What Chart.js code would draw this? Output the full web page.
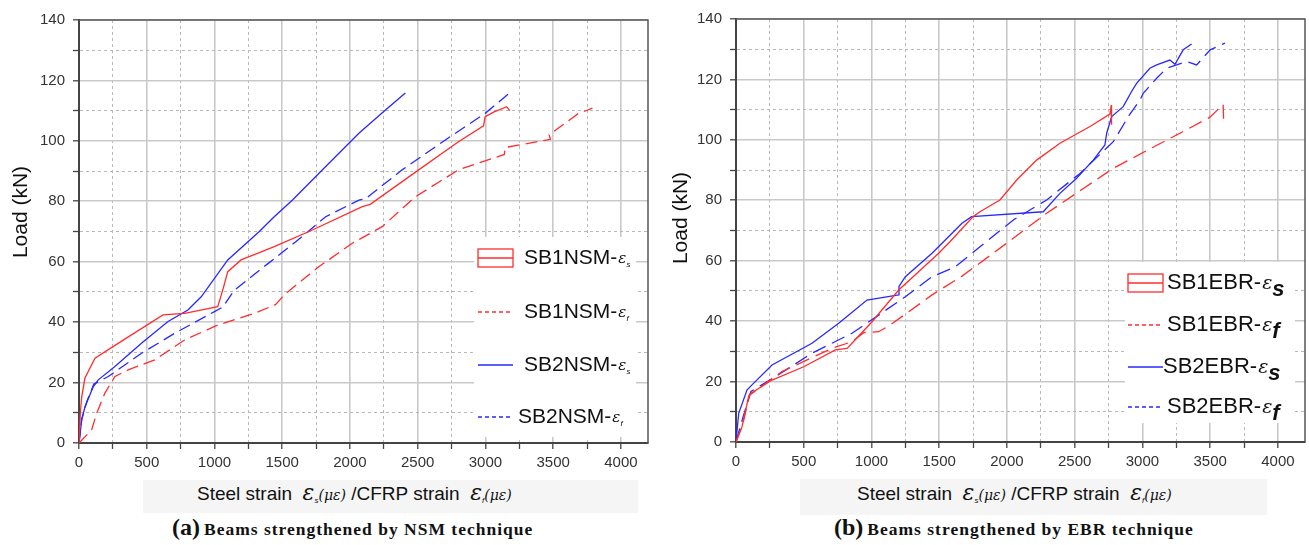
<!DOCTYPE html>
<html>
<head>
<meta charset="utf-8">
<script src="https://cdn.jsdelivr.net/npm/chart.js@4.4.1/dist/chart.umd.min.js"></script>
<style>
body { margin: 0; background: #fff; width: 1309px; height: 545px; position: relative; overflow: hidden; font-family: "Liberation Sans", Arial, sans-serif; color: #111; }
.abs { position: absolute; }
.ytitle { font-size: 21px; transform: rotate(-90deg); transform-origin: center center; white-space: nowrap; width: 120px; text-align: center; line-height: 24px; }
.xbox { background: #f5f5f5; }
.xtitle { font-size: 19px; white-space: nowrap; line-height: 24px; }
.xtitle .eps { font-family: "DejaVu Serif", serif; font-style: italic; font-size: 22px; }
.xtitle sub { font-size: 8px; font-style: italic; vertical-align: -3px; }
.xtitle .me { font-family: "DejaVu Serif", serif; font-style: italic; font-size: 14px; }
.cap { font-family: "Liberation Serif", "Times New Roman", serif; font-weight: bold; white-space: nowrap; line-height: 28px; }
.cap .lab { font-size: 24px; }
.cap .txt { font-size: 17.5px; letter-spacing: 1px; }
</style>
</head>
<body>

<canvas id="chartA" class="abs" style="left:0;top:0" width="660" height="475"></canvas>
<canvas id="chartB" class="abs" style="left:660px;top:0" width="649" height="475"></canvas>

<div class="abs ytitle" style="left:-40px;top:200px">Load (kN)</div>
<div class="abs ytitle" style="left:620px;top:206px">Load (kN)</div>

<div class="abs xbox" style="left:143px;top:480px;width:495px;height:33px"></div>
<div class="abs xbox" style="left:800px;top:479px;width:467px;height:36px"></div>

<div class="abs xtitle" style="left:197px;top:481px">Steel strain&nbsp; <span class="eps">ε</span><sub>s</sub><span class="me">(με)</span> /CFRP strain&nbsp; <span class="eps">ε</span><sub>f</sub><span class="me">(με)</span></div>
<div class="abs xtitle" style="left:857px;top:481px">Steel strain&nbsp; <span class="eps">ε</span><sub>s</sub><span class="me">(με)</span> /CFRP strain&nbsp; <span class="eps">ε</span><sub>f</sub><span class="me">(με)</span></div>

<div class="abs cap" style="left:172px;top:513px"><span class="lab">(a)</span> <span class="txt">Beams strengthened by NSM technique</span></div>
<div class="abs cap" style="left:834px;top:513px"><span class="lab">(b)</span> <span class="txt">Beams strengthened by EBR technique</span></div>

<script>
// strain (microstrain) and load (kN)

// (a) NSM beams
let sb1nsmSx = [0, 10, 20, 44, 118, 300, 620, 780, 1024, 1061, 1098, 1196, 1331, 1441, 1723, 2091, 2150, 2507, 2801, 2986, 2998, 3060, 3157, 3180];
let sb1nsmSy = [0, 10, 15.3, 21.5, 28.1, 33.3, 42.4, 42.9, 45.1, 50.6, 56.7, 60.6, 63, 65, 70.5, 78.2, 79, 90.4, 99.7, 105, 108, 109.5, 111.3, 110];

let sb1nsmFx = [0, 93, 130, 191, 265, 363, 559, 779, 1022, 1300, 1450, 1527, 1772, 2017, 2238, 2483, 2801, 2998, 3140, 3145, 3480, 3470, 3684, 3790];
let sb1nsmFy = [0, 4.3, 9.8, 16.5, 22, 24.2, 27.5, 34.1, 39, 43, 45.8, 49.5, 58.4, 66.1, 71.6, 81.5, 90.4, 93.4, 95.5, 97.8, 100.5, 102, 109, 110.8];

let sb2nsmSx = [0, 20, 44, 105, 142, 265, 461, 657, 804, 902, 1098, 1331, 1441, 1576, 1821, 2066, 2262, 2409];
let sb2nsmSy = [0, 7.6, 12, 18.6, 20.9, 25.3, 33, 40.2, 44, 48.4, 60.6, 70, 74.9, 80.4, 91.5, 102.5, 110.2, 115.8];

let sb2nsmFx = [0, 20, 60, 110, 216, 461, 706, 1000, 1061, 1147, 1404, 1441, 1600, 1821, 2066, 2115, 2385, 2704, 2998, 3169];
let sb2nsmFy = [0, 8, 14, 19.5, 22, 29.7, 36.3, 43.5, 45, 50.6, 59.7, 61, 66.6, 74.9, 80.4, 80.8, 90.4, 100.3, 109.1, 115.5];

// (b) EBR beams
let sb1ebrSx = [0, 44, 93, 100, 266, 500, 733, 820, 856, 1004, 1201, 1496, 1579, 1751, 1801, 1948, 2072, 2219, 2391, 2613, 2760, 2770, 2772];
let sb1ebrSy = [0, 5, 15, 15.8, 20.5, 24.9, 30.5, 31, 32.7, 39.8, 50.3, 62.5, 66.3, 74.6, 76.2, 80.1, 86.7, 93.3, 98.9, 104.4, 108.5, 111.5, 105];

let sb1ebrFx = [0, 50, 100, 339, 708, 856, 942, 1053, 1127, 1275, 1447, 1668, 1899, 2293, 2785, 3055, 3277, 3498, 3596, 3600];
let sb1ebrFy = [0, 6, 15.5, 23.3, 31, 33.2, 36.2, 36.5, 38.4, 43.1, 48.7, 54.9, 62.5, 75.7, 90.6, 97, 102.2, 107.5, 111.7, 105];

let sb2ebrSx = [0, 20, 81, 118, 266, 561, 758, 967, 1201, 1203, 1250, 1447, 1668, 1739, 2268, 2391, 2514, 2637, 2723, 2736, 2773, 2858, 2920, 2957, 3055, 3105, 3203, 3240, 3301, 3363];
let sb2ebrSy = [0, 9.5, 17.2, 18.9, 25.5, 32.7, 39.3, 47, 48.7, 51.5, 54.7, 62.5, 72.4, 74.6, 76.2, 82.3, 87.3, 93.3, 98.3, 102.2, 107.7, 111, 116, 118.7, 123.7, 124.8, 126.4, 125, 129.8, 131.7];

let sb2ebrFx = [0, 50, 110, 290, 561, 856, 1053, 1250, 1447, 1619, 1801, 2047, 2293, 2539, 2785, 2900, 2982, 3006, 3105, 3179, 3326, 3400, 3500, 3609];
let sb2ebrFy = [0, 8, 16.7, 21.6, 29.4, 36, 42, 48.1, 54.7, 58, 64.6, 73.5, 80.1, 88.9, 99.4, 108, 113.2, 115.4, 120.4, 123.7, 125.9, 124.8, 129.8, 132];

let labelsA = ['SB1NSM-', 'SB1NSM-', 'SB2NSM-', 'SB2NSM-'];
let labelsB = ['SB1EBR-', 'SB1EBR-', 'SB2EBR-', 'SB2EBR-'];
let subs = ['s', 'f', 's', 'f'];

let xTickLabels = [0, 500, 1000, 1500, 2000, 2500, 3000, 3500, 4000];
let yTickLabels = [0, 20, 40, 60, 80, 100, 120, 140];

const RED = 'rgb(255,45,45)';
const BLUE = 'rgb(40,40,255)';

function toPoints(xs, ys) {
    let pts = [];
    for (let i = 0; i < xs.length; i++) {
        pts.push({x: xs[i], y: ys[i]});
    }
    return pts;
}

function makeSet(label, xs, ys, color, dashed, dash) {
    return {
        label: label,
        data: toPoints(xs, ys),
        showLine: true,
        borderColor: color,
        backgroundColor: color,
        borderWidth: 1.3,
        borderDash: dashed ? dash : [],
        pointRadius: 0,
        tension: 0
    };
}

// major ticks carry labels, minor ones sit halfway between
function stepTicks(last, step) {
    return function(scale) {
        let t = [];
        for (let v = 0; v <= last; v += step) {
            t.push({value: v});
        }
        scale.ticks = t;
    };
}

function isMajor(c, every) {
    return c.tick && Math.round(c.tick.value) % every === 0;
}

// frame, white legend box and the legend itself
function panelPlugin(legend) {
    return {
        id: 'panel',
        beforeDatasetsDraw(chart) {
            let ctx = chart.ctx;
            ctx.save();
            ctx.fillStyle = '#fff';
            ctx.fillRect(legend.box[0], legend.box[1], legend.box[2], legend.box[3]);
            ctx.restore();
        },
        afterDraw(chart) {
            let ctx = chart.ctx;
            let a = chart.chartArea;
            ctx.save();
            ctx.strokeStyle = '#555';
            ctx.lineWidth = 1.5;
            ctx.beginPath();
            ctx.moveTo(a.left, a.top);
            ctx.lineTo(a.right, a.top);
            ctx.lineTo(a.right, a.bottom);
            ctx.stroke();

            chart.data.datasets.forEach(function(ds, i) {
                let y = legend.ys[i];
                let x0 = legend.sx0, x1 = legend.sx1;
                ctx.strokeStyle = ds.borderColor;
                ctx.lineWidth = 1.3;
                if (i === 0) {
                    ctx.setLineDash([]);
                    ctx.strokeRect(x0, y - 9, x1 - x0, 18);
                    ctx.beginPath();
                    ctx.moveTo(x0, y);
                    ctx.lineTo(x1, y);
                    ctx.stroke();
                } else {
                    ctx.setLineDash(ds.borderDash.length ? [4, 3] : []);
                    ctx.beginPath();
                    ctx.moveTo(x0, y);
                    ctx.lineTo(x1, y);
                    ctx.stroke();
                    ctx.setLineDash([]);
                }
                ctx.fillStyle = '#111';
                ctx.textBaseline = 'middle';
                ctx.font = legend.size + 'px "Liberation Sans", Arial, sans-serif';
                let tx = legend.tx[i];
                ctx.fillText(ds.label, tx, y);
                tx += ctx.measureText(ds.label).width + 1;
                ctx.font = 'italic ' + legend.epsSize + 'px "DejaVu Serif", serif';
                ctx.fillText('ε', tx, y + legend.epsDy);
                tx += ctx.measureText('ε').width;
                ctx.font = legend.subFont;
                ctx.fillText(subs[i], tx, y + legend.subDy);
            });
            ctx.restore();
        }
    };
}

function makeChart(id, datasets, lay, legend) {
    let ctx = document.getElementById(id).getContext('2d');
    return new Chart(ctx, {
        type: 'scatter',
        data: { datasets: datasets },
        options: {
            responsive: false,
            animation: false,
            events: [],
            layout: { padding: { top: lay.top, right: lay.right, left: 0, bottom: 0 } },
            plugins: { legend: { display: false }, tooltip: { enabled: false } },
            scales: {
                x: {
                    type: 'linear',
                    min: 0,
                    max: 4200,
                    afterBuildTicks: stepTicks(4000, 250),
                    afterFit: function(s) { s.height = lay.xh; },
                    ticks: {
                        autoSkip: false,
                        maxRotation: 0,
                        color: '#333',
                        padding: 5,
                        font: { size: 15, family: '"Liberation Sans", Arial, sans-serif' },
                        callback: function(v) { return xTickLabels.includes(Math.round(v)) ? String(Math.round(v)) : ''; }
                    },
                    grid: {
                        color: function(c) { return isMajor(c, 500) ? '#c9c9c9' : '#b8b8b8'; },
                        lineWidth: function(c) { return isMajor(c, 500) ? 1.6 : 1; },
                        tickLength: 6,
                        tickColor: '#444',
                        tickWidth: 1.3
                    },
                    border: {
                        color: '#444',
                        width: 2,
                        dash: function(c) { return c.tick && !isMajor(c, 500) ? [3, 3] : []; }
                    }
                },
                y: {
                    type: 'linear',
                    min: 0,
                    max: 140,
                    afterBuildTicks: stepTicks(140, 10),
                    afterFit: function(s) { s.width = lay.yw; },
                    ticks: {
                        autoSkip: false,
                        color: '#333',
                        padding: 8,
                        font: { size: 15, family: '"Liberation Sans", Arial, sans-serif' },
                        callback: function(v) { return yTickLabels.includes(Math.round(v)) ? String(Math.round(v)) : ''; }
                    },
                    grid: {
                        color: function(c) { return isMajor(c, 20) ? '#c9c9c9' : '#b8b8b8'; },
                        lineWidth: function(c) { return isMajor(c, 20) ? 1.6 : 1; },
                        tickLength: 6,
                        tickColor: '#444',
                        tickWidth: 1.3
                    },
                    border: {
                        color: '#444',
                        width: 2,
                        dash: function(c) { return c.tick && !isMajor(c, 20) ? [3, 3] : []; }
                    }
                }
            }
        },
        plugins: [panelPlugin(legend)]
    });
}

let setsA = [
    makeSet(labelsA[0], sb1nsmSx, sb1nsmSy, RED, false),
    makeSet(labelsA[1], sb1nsmFx, sb1nsmFy, RED, true, [12, 6]),
    makeSet(labelsA[2], sb2nsmSx, sb2nsmSy, BLUE, false),
    makeSet(labelsA[3], sb2nsmFx, sb2nsmFy, BLUE, true, [12, 6])
];

let setsB = [
    makeSet(labelsB[0], sb1ebrSx, sb1ebrSy, RED, false),
    makeSet(labelsB[1], sb1ebrFx, sb1ebrFy, RED, true, [14, 7]),
    makeSet(labelsB[2], sb2ebrSx, sb2ebrSy, BLUE, false),
    makeSet(labelsB[3], sb2ebrFx, sb2ebrFy, BLUE, true, [14, 7])
];

makeChart('chartA', setsA, { top: 20, right: 12, yw: 79, xh: 32 }, {
    box: [474, 237, 162, 200],
    ys: [258, 312, 365, 417],
    sx0: 478, sx1: 513,
    tx: [524, 524, 524, 518],
    size: 21,
    epsSize: 15, epsDy: 1,
    subFont: 'italic 8px "Liberation Sans", Arial, sans-serif', subDy: 7
});

makeChart('chartB', setsB, { top: 19, right: 4, yw: 76, xh: 33 }, {
    box: [465, 262, 170, 161],
    ys: [283, 325, 367, 407],
    sx0: 468, sx1: 503,
    tx: [507, 507, 503, 507],
    size: 22,
    epsSize: 19, epsDy: 1,
    subFont: 'italic bold 22px "Liberation Sans", Arial, sans-serif', subDy: 7
});
</script>
</body>
</html>
